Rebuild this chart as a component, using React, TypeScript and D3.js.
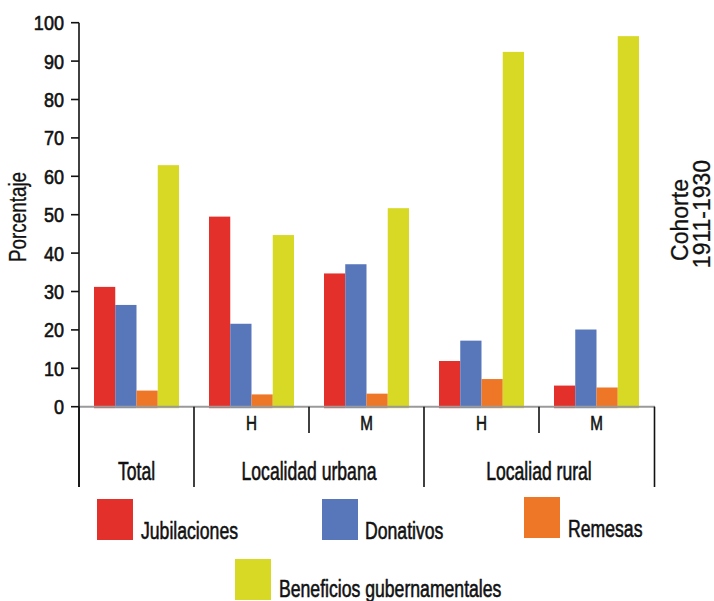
import React from "react";
import * as d3 from "d3";

const groups = ["Total", "UH", "UM", "RH", "RM"];
const series = ["Jubilaciones", "Donativos", "Remesas", "Beneficios gubernamentales"];
const colors = ["#E4302A", "#5877BB", "#EE7727", "#D8D925"];
const jubilaciones = [31.2, 49.5, 34.7, 11.9, 5.5];
const donativos = [26.5, 21.6, 37.1, 17.2, 20.1];
const remesas = [4.2, 3.2, 3.4, 7.2, 5.0];
const beneficios = [62.9, 44.7, 51.7, 92.4, 96.5];
const subLabels = ["", "H", "M", "H", "M"];
const topGroups = [
  { label: "Total", from: 0, to: 1 },
  { label: "Localidad urbana", from: 1, to: 3 },
  { label: "Localiad rural", from: 3, to: 5 },
];
const yTicks = [0, 10, 20, 30, 40, 50, 60, 70, 80, 90, 100];

const SANS = "'Liberation Sans', Arial, Helvetica, sans-serif";

function T({ x, y, size, anchor = "start", sx = 1, rotate = 0, family = SANS, heavy = 0.6, children }: any) {
  return (
    <text
      transform={`translate(${x},${y}) rotate(${rotate}) scale(${sx},1)`}
      fontSize={size}
      fontFamily={family}
      textAnchor={anchor}
      fill="#111"
      stroke="#111"
      strokeWidth={heavy}
    >
      {children}
    </text>
  );
}

export default function App() {
  const W = 714, H = 601;
  const values = [jubilaciones, donativos, remesas, beneficios];
  const x0 = d3.scaleBand<string>().domain(groups).range([79, 654]).padding(0);
  const x1 = d3.scaleBand<string>().domain(series).range([0, x0.bandwidth()]).paddingInner(0).paddingOuter(0.706);
  const y = d3.scaleLinear().domain([0, 100]).range([406.7, 22.7]);

  const legend = [
    { box: [97, 499], tx: 141, ty: 539 },
    { box: [322, 499], tx: 365, ty: 539 },
    { box: [524, 497], tx: 568, ty: 537 },
    { box: [235, 559], tx: 279, ty: 597 },
  ];

  return (
    <svg width={W} height={H} style={{ position: "absolute", left: 0, top: 0, background: "#fff" }}>
      {groups.map((g, gi) => (
        <g key={g} transform={`translate(${x0(g)},0)`}>
          {series.map((s, si) => (
            <rect
              key={s}
              x={x1(s)}
              y={y(values[si][gi])}
              width={x1.bandwidth()}
              height={y(0) + 1.5 - y(values[si][gi])}
              fill={colors[si]}
            />
          ))}
        </g>
      ))}
      <line x1={79} x2={655} y1={y(0)} y2={y(0)} stroke="#9a9a9a" strokeWidth={2} />
      <line x1={79} x2={79} y1={y(100)} y2={487} stroke="#111" strokeWidth={1.6} />
      {yTicks.map((t) => (
        <g key={t}>
          <line x1={71} x2={79} y1={y(t)} y2={y(t)} stroke="#111" strokeWidth={1.6} />
          <T x={64} y={y(t) + 7.5} size={21} anchor="end" sx={0.86}>{t}</T>
        </g>
      ))}
      {[0, 1, 3, 5].map((i) => {
        const xx = i < 5 ? (x0(groups[i]) as number) : 654.5;
        return <line key={"s" + i} x1={xx} x2={xx} y1={y(0)} y2={487} stroke="#111" strokeWidth={1.6} />;
      })}
      {[2, 4].map((i) => {
        const xx = x0(groups[i]) as number;
        return <line key={"ss" + i} x1={xx} x2={xx} y1={y(0)} y2={433} stroke="#111" strokeWidth={1.6} />;
      })}
      {groups.map((g, gi) =>
        subLabels[gi] ? (
          <T key={"sl" + g} x={(x0(g) as number) + x0.bandwidth() / 2} y={430} size={19.5} anchor="middle" sx={0.78}>
            {subLabels[gi]}
          </T>
        ) : null
      )}
      {topGroups.map((tg) => {
        const a = x0(groups[tg.from]) as number;
        const b = tg.to < 5 ? (x0(groups[tg.to]) as number) : 654;
        return (
          <T key={tg.label} x={(a + b) / 2} y={480} size={25.5} anchor="middle" sx={0.69}>
            {tg.label}
          </T>
        );
      })}
      <T x={26} y={217} size={23} anchor="middle" rotate={-90} sx={0.82} heavy={0.3}>Porcentaje</T>
      <T x={688} y={220} size={23} anchor="middle" rotate={-90} heavy={0.3}>Cohorte</T>
      <T x={710} y={214} size={23} anchor="middle" rotate={-90} heavy={0.3}>1911-1930</T>
      {series.map((s, i) => (
        <g key={"lg" + s}>
          <rect x={legend[i].box[0]} y={legend[i].box[1]} width={36} height={41} fill={colors[i]} />
          <T x={legend[i].tx} y={legend[i].ty} size={24.5} sx={0.72}>{s}</T>
        </g>
      ))}
    </svg>
  );
}
